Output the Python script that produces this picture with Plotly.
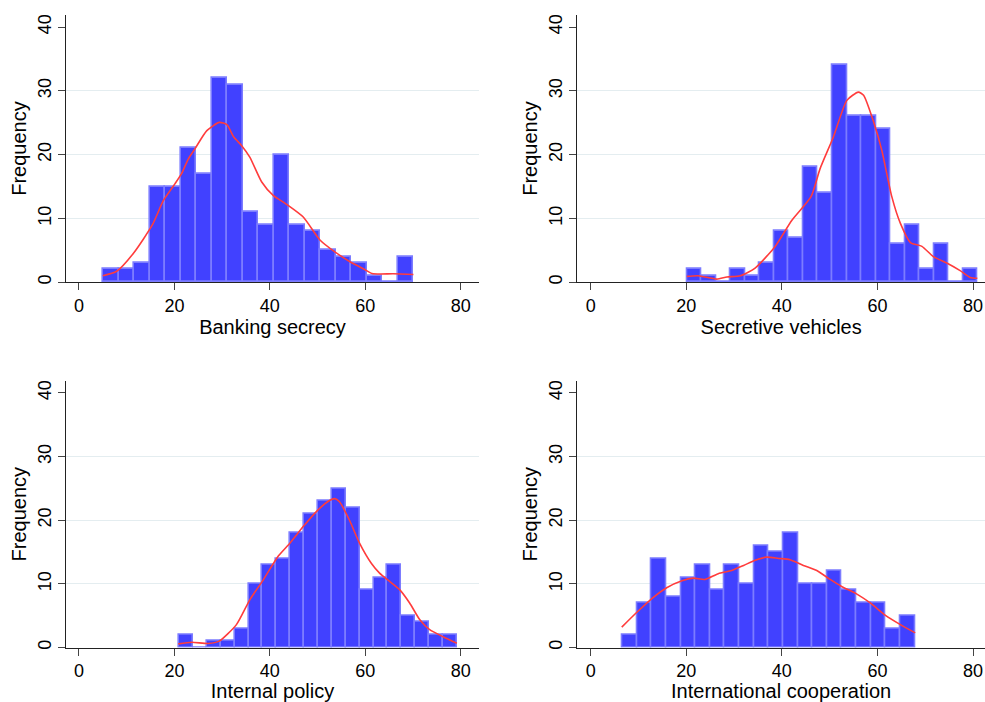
import numpy as np
import plotly.graph_objects as go

# histogram counts (20 bins each)
banking_counts = [2, 2, 3, 15, 15, 21, 17, 32, 31, 11, 9, 20, 9, 8, 5, 4, 3, 1, 0, 4]
banking_start, banking_width = 5.1, 3.25
vehicles_counts = [2, 1, 0, 2, 1, 3, 8, 7, 18, 14, 34, 26, 26, 24, 6, 9, 2, 6, 0, 2]
vehicles_start, vehicles_width = 20.2, 3.035
internal_counts = [2, 0, 1, 1, 3, 10, 13, 14, 18, 21, 23, 25, 22, 9, 11, 13, 5, 4, 2, 2]
internal_start, internal_width = 21.0, 2.91
coop_counts = [2, 7, 14, 8, 11, 13, 9, 13, 10, 16, 15, 18, 10, 10, 12, 9, 7, 7, 3, 5]
coop_start, coop_width = 6.62, 3.06

# kernel density overlays (scaled to frequency)
banking_kde_x = [5.0, 7.9, 11.5, 15.4, 17.7, 20.1, 21.5, 22.9, 24.3, 26.8, 29.4, 31.0, 32.4, 34.1,
                 35.8, 38.3, 40.7, 43.5, 47.0, 50.5, 53.7, 56.8, 59.6, 61.4, 65.9, 70.1]
banking_kde_y = [1.0, 1.7, 4.6, 9.0, 12.8, 15.4, 17.0, 19.3, 20.9, 23.75, 25.05, 24.7, 22.8, 21.4,
                 19.6, 15.7, 13.6, 12.2, 10.2, 6.6, 4.7, 3.2, 2.1, 1.35, 1.3, 1.2]
vehicles_kde_x = [20.1, 22.5, 26.4, 28.5, 31.3, 34.4, 38.6, 42.1, 46.1, 48.0, 50.8, 53.6, 56.0,
                  57.1, 59.2, 60.9, 63.0, 64.8, 66.9, 69.3, 71.7, 74.5, 77.3, 79.4, 80.9]
vehicles_kde_y = [0.9, 1.0, 0.47, 0.8, 1.0, 2.2, 5.6, 9.7, 13.4, 17.8, 22.8, 28.5, 29.8,
                  29.3, 25.1, 20.7, 13.4, 9.2, 6.2, 5.6, 4.0, 3.0, 1.8, 0.73, 0.6]
internal_kde_x = [20.8, 23.6, 27.1, 29.4, 33.0, 35.8, 38.6, 41.7, 44.2, 47.0, 49.8, 52.5, 53.6,
                  54.6, 56.7, 58.8, 61.3, 63.0, 65.1, 67.2, 69.3, 71.4, 73.5, 76.3, 79.2]
internal_kde_y = [0.57, 0.83, 0.63, 1.0, 3.6, 7.5, 10.6, 14.3, 16.4, 19.0, 21.4, 23.1, 23.4,
                  22.9, 20.0, 16.4, 13.2, 11.7, 10.4, 9.1, 7.0, 4.4, 2.8, 1.7, 0.68]
coop_kde_x = [6.5, 9.6, 12.8, 15.9, 19.1, 21.5, 23.9, 26.7, 29.5, 32.0, 34.4, 36.8, 39.3, 41.7,
              44.5, 47.3, 50.1, 52.5, 55.7, 58.5, 61.6, 64.8, 67.9]
coop_kde_y = [3.2, 5.5, 7.7, 9.4, 10.5, 10.9, 10.7, 11.6, 12.1, 12.9, 13.7, 14.2, 14.0, 13.8,
              12.9, 12.1, 10.7, 9.6, 8.4, 7.0, 5.1, 3.6, 2.3]

titles = ["Banking secrecy", "Secretive vehicles", "Internal policy", "International cooperation"]
x_ticks = [0, 20, 40, 60, 80]
y_ticks = [0, 10, 20, 30, 40]
grid_vals = [10, 20, 30]

W, H = 985, 702
panels = [
    (banking_counts, banking_start, banking_width, banking_kde_x, banking_kde_y,
     [66 / W, 479 / W], [1 - 282.3 / H, 1 - 14 / H], [-2.72, 83.84]),
    (vehicles_counts, vehicles_start, vehicles_width, vehicles_kde_x, vehicles_kde_y,
     [577.3 / W, 1.0], [1 - 282.3 / H, 1 - 14 / H], [-2.80, 82.5]),
    (internal_counts, internal_start, internal_width, internal_kde_x, internal_kde_y,
     [66 / W, 479 / W], [1 - 649.3 / H, 1 - 381.5 / H], [-2.72, 83.84]),
    (coop_counts, coop_start, coop_width, coop_kde_x, coop_kde_y,
     [577.3 / W, 1.0], [1 - 649.3 / H, 1 - 381.5 / H], [-2.80, 82.5]),
]

font = "Liberation Sans, Arial, Helvetica, sans-serif"
fig = go.Figure()
layout = {}

for i, (counts, start, width, kx, ky, xdom, ydom, xr) in enumerate(panels):
    n = i + 1
    xa = "x" if n == 1 else f"x{n}"
    ya = "y" if n == 1 else f"y{n}"
    centers = start + width * (np.arange(len(counts)) + 0.5)

    fig.add_trace(go.Bar(
        x=centers, y=counts, width=width,
        marker=dict(color="#4141ff", line=dict(color="#7c7cff", width=1.6)),
        xaxis=xa, yaxis=ya, hoverinfo="x+y",
    ))
    fig.add_trace(go.Scatter(
        x=kx, y=ky, mode="lines",
        line=dict(color="#ff3c3c", width=1.6, shape="spline", smoothing=0.6),
        xaxis=xa, yaxis=ya, hoverinfo="skip",
    ))

    layout["xaxis" if n == 1 else f"xaxis{n}"] = dict(
        domain=xdom, range=xr, anchor=ya,
        tickvals=x_ticks, ticks="outside", ticklen=7, tickwidth=1.2, tickcolor="#444",
        showline=True, linecolor="#222", linewidth=1.3,
        showgrid=False, zeroline=False,
        tickfont=dict(size=18, color="black", family=font),
        title=dict(text=titles[i], font=dict(size=20, color="black", family=font), standoff=2),
    )
    layout["yaxis" if n == 1 else f"yaxis{n}"] = dict(
        domain=ydom, range=[0, 41.9], anchor=xa,
        tickvals=y_ticks, tickangle=-90, ticks="outside", ticklen=7, tickwidth=1.2, tickcolor="#444",
        showline=True, linecolor="#222", linewidth=1.3,
        showgrid=False, zeroline=False,
        minor=dict(tickvals=grid_vals, showgrid=True, gridcolor="#e4edf0", gridwidth=1.3),
        tickfont=dict(size=18, color="black", family=font),
        title=dict(text="Frequency", font=dict(size=20, color="black", family=font), standoff=2),
    )

fig.update_layout(
    width=W, height=H,
    margin=dict(l=0, r=0, t=0, b=0),
    paper_bgcolor="white", plot_bgcolor="white",
    showlegend=False, bargap=0,
    **layout,
)

# page body has a default 8px margin; drop it so the figure fills the window
fig.write_html("out.html", config={"displayModeBar": False},
               post_script="document.body.style.margin='0';")
